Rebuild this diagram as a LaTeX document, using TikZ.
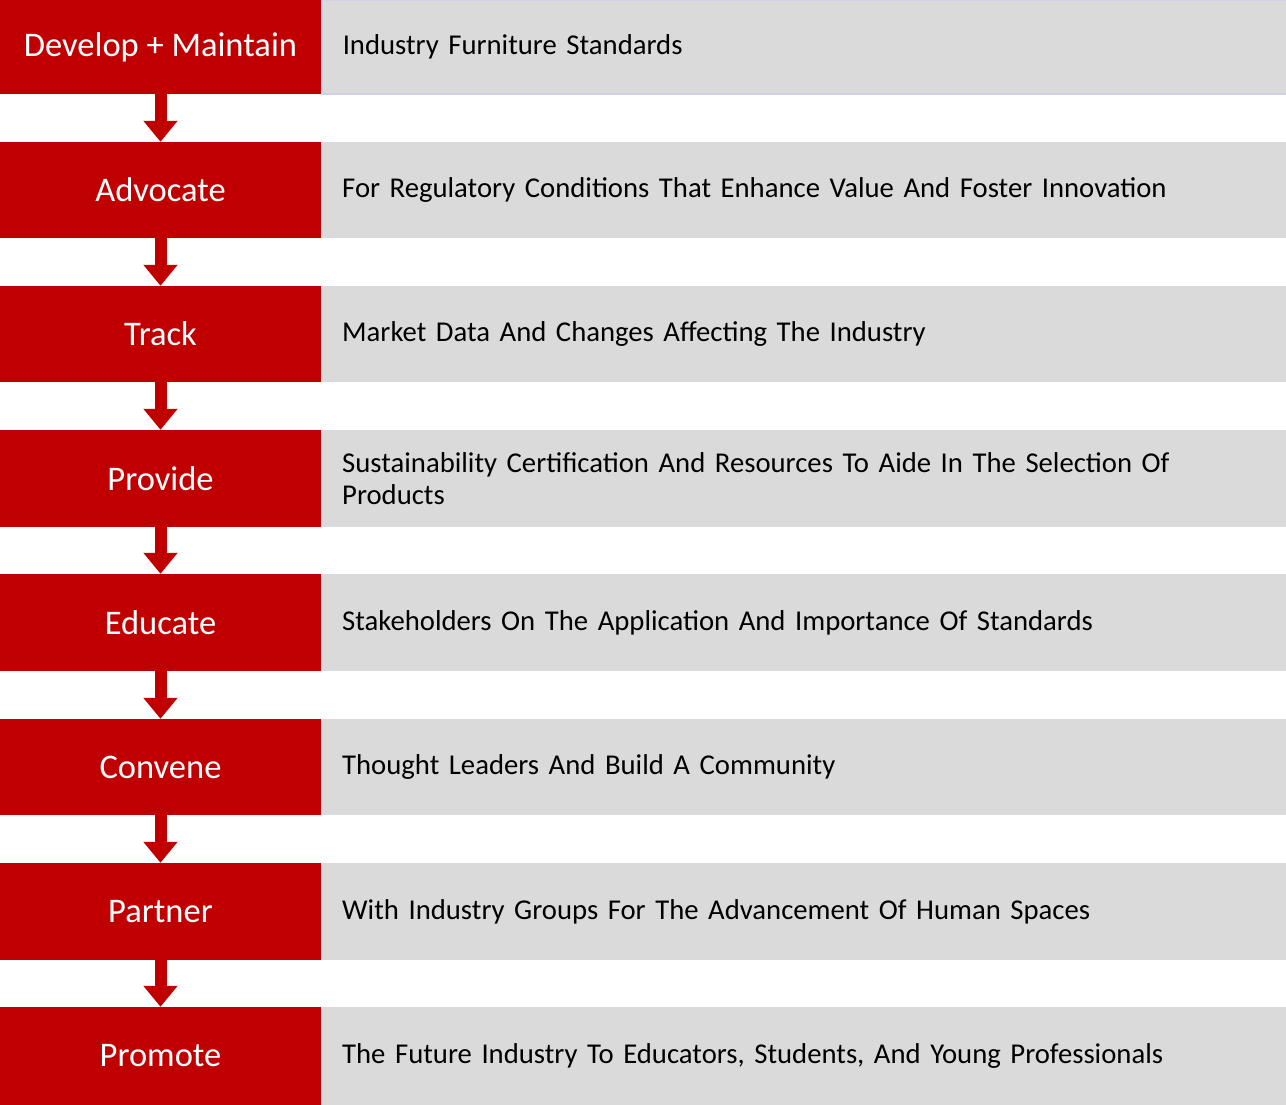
\documentclass[tikz,border=0pt]{standalone}
\usepackage{fontspec}
\setmainfont{Carlito}
\usetikzlibrary{arrows.meta}
\definecolor{redbox}{HTML}{C00000}
\definecolor{greybox}{HTML}{DADADA}
\definecolor{edgeblue}{HTML}{CDD2E8}
\tikzset{
  redcell/.style={fill=redbox, draw=none, minimum width=321pt, inner sep=0pt, text=white,
    font=\fontsize{34.5}{38}\selectfont},
  greycell/.style={fill=greybox, draw=none, minimum width=965pt, text width=923pt, inner xsep=21pt, inner ysep=0pt,
    align=left, anchor=west, font=\fontsize{28.7}{31.5}\selectfont},
  flowarrow/.style={draw=redbox, line width=12pt, -{Triangle[width=33pt,length=21pt]}, fill=redbox}
}
\begin{document}
\begin{tikzpicture}[x=1pt,y=-1pt]
\useasboundingbox (0,0) rectangle (1286,1105);
% row 1
\node[greycell, draw=edgeblue, line width=1.5pt, minimum height=94pt] (g1) at (321,47) {Industry Furniture Standards};
\node[redcell, minimum height=94pt] (r1) at (160.5,47) {Develop + Maintain};
% rows 2-8
\node[redcell, minimum height=96pt] (r2) at (160.5,190) {Advocate};
\node[greycell, minimum height=96pt] (g2) at (321,190) {For Regulatory Conditions That Enhance Value And Foster Innovation};
\node[redcell, minimum height=96pt] (r3) at (160.5,334) {Track};
\node[greycell, minimum height=96pt] (g3) at (321,334) {Market Data And Changes Affecting The Industry};
\node[redcell, minimum height=97pt] (r4) at (160.5,478.5) {Provide};
\node[greycell, minimum height=97pt] (g4) at (321,478.5) {Sustainability Certification And Resources To Aide In The Selection Of\\Products};
\node[redcell, minimum height=97pt] (r5) at (160.5,622.5) {Educate};
\node[greycell, minimum height=97pt] (g5) at (321,622.5) {Stakeholders On The Application And Importance Of Standards};
\node[redcell, minimum height=96pt] (r6) at (160.5,767) {Convene};
\node[greycell, minimum height=96pt] (g6) at (321,767) {Thought Leaders And Build A Community};
\node[redcell, minimum height=97pt] (r7) at (160.5,911.5) {Partner};
\node[greycell, minimum height=97pt] (g7) at (321,911.5) {With Industry Groups For The Advancement Of Human Spaces};
\node[redcell, minimum height=98pt] (r8) at (160.5,1056) {Promote};
\node[greycell, minimum height=98pt] (g8) at (321,1056) {The Future Industry To Educators, Students, And Young Professionals};
% arrows
\foreach \a/\b in {r1/r2,r2/r3,r3/r4,r4/r5,r5/r6,r6/r7,r7/r8}
  \draw[flowarrow] (\a.south) -- (\b.north);
\end{tikzpicture}
\end{document}
